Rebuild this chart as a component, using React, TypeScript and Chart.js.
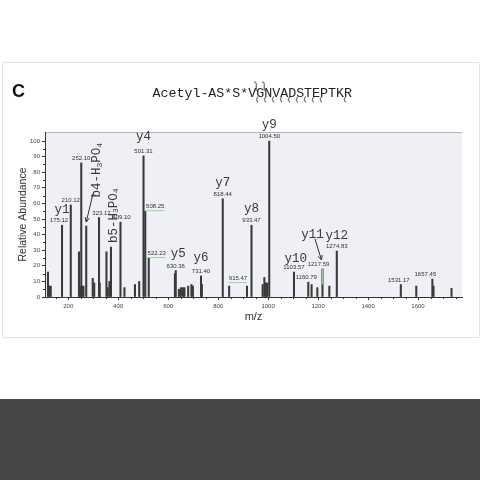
import React, { useEffect, useRef } from "react";
import { Chart, registerables } from "chart.js";
Chart.register(...registerables);

// ---------- data ----------
const PANEL_LETTER = "C";
const SEQUENCE = "Acetyl-AS*S*VGNVADSTEPTKR";
const SEQ_B_BREAKS = [13, 14];
const SEQ_Y_BREAKS = [13, 14, 15, 16, 17, 18, 19, 20, 21, 24];

const peakMz = [
  119, 124, 130, 175.12, 210.12, 243, 247, 252.1, 256, 261, 272, 298, 304,
  323.17, 326, 353, 358, 365, 371, 409.1, 425, 467, 484, 501.31, 508.25,
  522.23, 627, 630.36, 643, 651, 659, 665, 680, 693, 699, 731.4, 735,
  818.44, 844, 915.47, 933.47, 978, 985, 991, 996, 1004.5, 1103.57,
  1160.79, 1174, 1197, 1217.59, 1245, 1274.83, 1531.17, 1593, 1657.45,
  1662, 1734,
];
const peakIntensity = [
  16, 7, 7, 46, 59, 29, 7, 86, 7, 7, 45.5, 12, 9,
  51, 9, 29, 6, 10, 32, 48, 6, 8, 10, 90.5, 55,
  25, 15, 17, 5, 6, 6, 6, 7, 8, 7, 13.5, 8,
  63, 7, 7, 46, 8, 12.5, 9, 9, 100, 16,
  9.5, 8, 6, 18, 7, 29.5, 8, 7, 11.5,
  7, 5.5,
];

const massLabels = [
  175.12, 210.12, 252.1, 323.17, 409.1, 501.31, 508.25, 522.23, 630.36,
  731.4, 818.44, 915.47, 933.47, 1004.5, 1103.57, 1160.79, 1217.59,
  1274.83, 1531.17, 1657.45,
];
const ionNames = ["y1", "y4", "y5", "y6", "y7", "y8", "y9", "y10", "y11", "y12"];
const ionMz = [175.12, 501.31, 630.36, 731.4, 818.44, 933.47, 1004.5, 1103.57, 1217.59, 1274.83];
const lossNames = ["b4-H_3PO_4", "b5-H_3PO_4"];
const lossMz = [272, 371];

const xTickValues = [200, 400, 600, 800, 1000, 1200, 1400, 1600];
const yTickValues = [0, 10, 20, 30, 40, 50, 60, 70, 80, 90, 100];
const X_TITLE = "m/z";
const Y_TITLE = "Relative Abundance";

// ---------- layout / style (pixel nudges, not data) ----------
const SANS = "'Liberation Sans', Arial, sans-serif";
const MONO = "'Liberation Mono', 'Courier New', monospace";
const massNudge: Record<string, [number, number]> = {
  "175.12": [-3, 0], "323.17": [2.5, 0], "409.1": [1, 0], "508.25": [10, 0],
  "522.23": [8, 0], "915.47": [-9, -3], "1160.79": [-2, 0], "1217.59": [-4, 0],
  "1531.17": [-2, 0], "1657.45": [-7, 0],
};
const ionNudge: Record<string, [number, number]> = {
  y1: [0, 1.5], y4: [0, -2], y5: [2.4, 0], y6: [0, -1], y7: [0, 1], y8: [0, 0],
  y9: [0, 1], y10: [1.8, 3.5], y11: [-10, -17], y12: [0, 2],
};
const lossPos: [number, number][] = [[10.4, -28.5], [2.3, -4]];
const arrows: { mz: number; from: [number, number]; to: [number, number] }[] = [
  { mz: 272, from: [7, -33], to: [0, -4] },
  { mz: 1217.59, from: [-7.5, -30], to: [-1, -9] },
];
const greenUnder = [508.25, 522.23, 915.47];

const valueAt = (m: number) => peakIntensity[peakMz.indexOf(m)];

const annotate = {
  id: "annotate",
  beforeDraw(chart: any) {
    const { ctx, chartArea: a } = chart;
    ctx.save();
    ctx.fillStyle = "#efeff6";
    ctx.fillRect(a.left, a.top, a.right - a.left, a.bottom - a.top);
    ctx.strokeStyle = "#b4b4bc";
    ctx.lineWidth = 1;
    ctx.beginPath();
    ctx.moveTo(a.left, Math.round(a.top) + 0.5);
    ctx.lineTo(a.right, Math.round(a.top) + 0.5);
    ctx.stroke();
    ctx.restore();
  },
  afterDraw(chart: any) {
    const { ctx, chartArea: a, scales } = chart;
    const xs = scales.x, ys = scales.y;
    const px = (m: number) => xs.getPixelForValue(m);
    const py = (v: number) => ys.getPixelForValue(v);
    ctx.save();

    // minor ticks
    ctx.strokeStyle = "#333";
    ctx.lineWidth = 1;
    ctx.beginPath();
    for (let m = 150; m < xs.max; m += 50) {
      if (m % 200 === 0) continue;
      const x = Math.round(px(m)) + 0.5;
      ctx.moveTo(x, a.bottom);
      ctx.lineTo(x, a.bottom + 2);
    }
    for (let v = 5; v < 100; v += 10) {
      const y = Math.round(py(v)) + 0.5;
      ctx.moveTo(a.left - 2, y);
      ctx.lineTo(a.left, y);
    }
    ctx.stroke();

    // green highlights
    ctx.strokeStyle = "#9ad49a";
    ctx.lineWidth = 1;
    ctx.beginPath();
    const gx = px(1217.59);
    ctx.moveTo(gx, py(18));
    ctx.lineTo(gx, py(8));
    ctx.stroke();

    // mass labels
    ctx.font = `6px ${SANS}`;
    ctx.textAlign = "center";
    ctx.textBaseline = "middle";
    massLabels.forEach((m) => {
      const nd = massNudge[String(m)] || [0, 0];
      const x = px(m) + nd[0];
      const y = py(valueAt(m)) - 4.5 + nd[1];
      ctx.fillStyle = "#333";
      ctx.fillText(m.toFixed(2), x, y);
      if (greenUnder.includes(m)) {
        const w = ctx.measureText(m.toFixed(2)).width;
        const pk = px(m);
        const ex = x > pk ? x + w / 2 : x - w / 2;
        ctx.strokeStyle = "#9ad49a";
        ctx.beginPath();
        ctx.moveTo(pk, y + 4);
        ctx.lineTo(ex, y + 4);
        ctx.stroke();
      }
    });

    // ion labels
    ctx.font = `12.5px ${MONO}`;
    ctx.fillStyle = "#3a3a3a";
    ionNames.forEach((n, i) => {
      const m = ionMz[i];
      const nd = ionNudge[n] || [0, 0];
      const x = px(m) + nd[0];
      const y = py(valueAt(m)) - 4.5 - 12.5 + nd[1];
      ctx.fillText(n, x, y);
    });

    // rotated neutral-loss labels
    lossNames.forEach((name, i) => {
      const m = lossMz[i];
      const [dx, dy] = lossPos[i];
      const cx = px(m) + dx;
      const by = py(valueAt(m)) + dy;
      ctx.save();
      ctx.translate(cx, by);
      ctx.rotate(-Math.PI / 2);
      ctx.textAlign = "left";
      ctx.textBaseline = "middle";
      let cur = 0;
      for (let k = 0; k < name.length; k++) {
        const ch = name[k];
        if (ch === "_") {
          const s = name[++k];
          ctx.font = `8px ${MONO}`;
          ctx.fillText(s, cur, 3);
          cur += ctx.measureText(s).width;
        } else {
          ctx.font = `12.5px ${MONO}`;
          ctx.fillText(ch, cur, 0);
          cur += ctx.measureText(ch).width;
        }
      }
      ctx.restore();
    });

    // arrows
    ctx.strokeStyle = "#333";
    ctx.lineWidth = 1;
    arrows.forEach((ar) => {
      const bx = px(ar.mz), bt = py(valueAt(ar.mz));
      const x1 = bx + ar.from[0], y1 = bt + ar.from[1];
      const x2 = bx + ar.to[0], y2 = bt + ar.to[1];
      const ang = Math.atan2(y2 - y1, x2 - x1);
      ctx.beginPath();
      ctx.moveTo(x1, y1);
      ctx.lineTo(x2, y2);
      const L = 5;
      ctx.moveTo(x2, y2);
      ctx.lineTo(x2 - L * Math.cos(ang - 0.45), y2 - L * Math.sin(ang - 0.45));
      ctx.moveTo(x2, y2);
      ctx.lineTo(x2 - L * Math.cos(ang + 0.45), y2 - L * Math.sin(ang + 0.45));
      ctx.stroke();
    });

    // panel letter
    ctx.fillStyle = "#111";
    ctx.font = `bold 18px ${SANS}`;
    ctx.textAlign = "center";
    ctx.textBaseline = "middle";
    ctx.fillText(PANEL_LETTER, 18.5, 92);

    // sequence
    ctx.font = `13.3px ${MONO}`;
    ctx.textAlign = "left";
    ctx.fillStyle = "#222";
    const x0 = 152.5, sy = 93.3;
    ctx.fillText(SEQUENCE, x0, sy);
    const cw = ctx.measureText(SEQUENCE).width / SEQUENCE.length;
    ctx.strokeStyle = "#333";
    ctx.lineWidth = 0.9;
    ctx.beginPath();
    SEQ_B_BREAKS.forEach((k) => {
      const x = x0 + k * cw;
      ctx.moveTo(x, 91);
      ctx.lineTo(x, 83.5);
      ctx.quadraticCurveTo(x, 82, x - 2.2, 82);
    });
    SEQ_Y_BREAKS.forEach((k) => {
      const x = x0 + k * cw;
      ctx.moveTo(x + 1.5, 96.5);
      ctx.quadraticCurveTo(x - 1, 99.5, x + 1.5, 102.5);
    });
    ctx.stroke();

    ctx.restore();
  },
};

export default function App() {
  const ref = useRef<HTMLCanvasElement>(null);
  useEffect(() => {
    const chart = new Chart(ref.current as HTMLCanvasElement, {
      type: "bar",
      data: {
        datasets: [
          {
            data: peakMz.map((m, i) => ({ x: m, y: peakIntensity[i] })),
            backgroundColor: "#3a3a3a",
            borderWidth: 0,
            barThickness: 1.4,
          } as any,
        ],
      },
      options: {
        responsive: false,
        animation: false,
        devicePixelRatio: 1,
        layout: { padding: { top: 132, right: 18, bottom: 150, left: 0 } },
        plugins: {
          legend: { display: false },
          tooltip: { enabled: false },
        },
        scales: {
          x: {
            type: "linear",
            min: 107,
            max: 1776,
            offset: false,
            afterFit: (s: any) => { s.height = 33; },
            afterBuildTicks: (s: any) => { s.ticks = xTickValues.map((v) => ({ value: v })); },
            ticks: { font: { size: 6, family: SANS }, color: "#444", padding: 3, maxRotation: 0, autoSkip: false, callback: (v: any) => String(v) },
            grid: { drawOnChartArea: false, tickLength: 3, color: "#333", offset: false },
            border: { color: "#333", width: 1 },
            title: { display: true, text: X_TITLE, font: { size: 11, family: SANS }, color: "#333", padding: { top: 0, bottom: 6.4 } },
          },
          y: {
            type: "linear",
            min: 0,
            max: 105.8,
            afterFit: (s: any) => { s.width = 45; },
            afterBuildTicks: (s: any) => { s.ticks = yTickValues.map((v) => ({ value: v })); },
            ticks: { font: { size: 6, family: SANS }, color: "#444", padding: 2, autoSkip: false, callback: (v: any) => String(v) },
            grid: { drawOnChartArea: false, tickLength: 3, color: "#333" },
            border: { color: "#333", width: 1 },
            title: { display: true, text: Y_TITLE, font: { size: 10.5, family: SANS }, color: "#333", padding: { top: 17, bottom: 0 } },
          },
        },
      } as any,
      plugins: [annotate as any],
    });
    return () => chart.destroy();
  }, []);
  return (
    <div style={{ position: "fixed", left: 0, top: 0, width: 480, height: 480, background: "#fff", overflow: "hidden" }}>
      <div style={{ position: "absolute", left: 2, top: 62, width: 476, height: 274, border: "1px solid #e4e4e4" }} />
      <div style={{ position: "absolute", left: 0, top: 399, width: 480, height: 81, background: "#464646" }} />
      <canvas ref={ref} width={480} height={480} style={{ position: "absolute", left: 0, top: 0 }} />
    </div>
  );
}
